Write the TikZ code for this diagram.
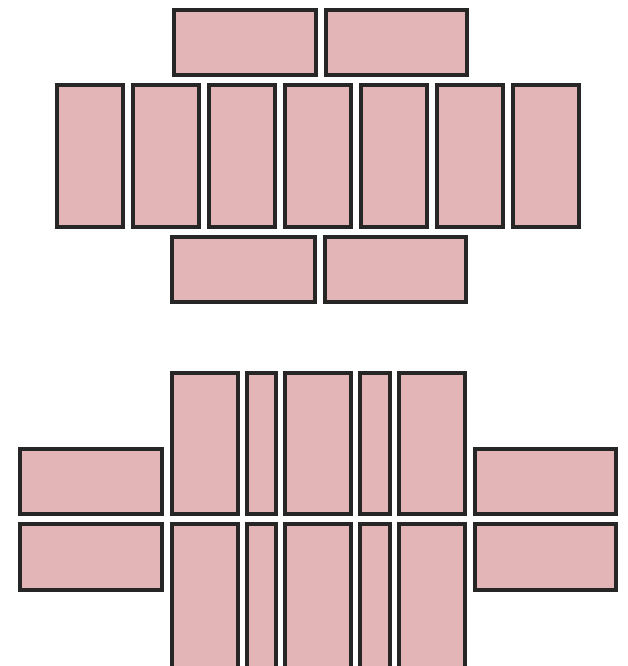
\documentclass[tikz,border=0pt]{standalone}
\definecolor{panel}{HTML}{E3B5B7}
\definecolor{frame}{HTML}{262626}
\begin{document}
\begin{tikzpicture}[x=1pt, y=-1pt, line join=miter,
		panelbox/.style={fill=panel, draw=frame, line width=3.4pt}]
			\useasboundingbox (0,0) rectangle (628,666);
			\clip (0,0) rectangle (628,666);
			% upper layout
			\draw[panelbox] (174,10) rectangle (316,75) (326,10) rectangle (467,75);
			\foreach \x in {57,133,209,285,361,437,513}\draw[panelbox] (\x,85) rectangle ({\x+66},227);
			\draw[panelbox] (172,237) rectangle (315,302) (325,237) rectangle (466,302);
			% lower layout
			\foreach \a/\b in {172/238,247/276,285/351,360/390,399/465}{
				\draw[panelbox] (\a,373) rectangle (\b,514);
				\draw[panelbox] (\a,524) rectangle (\b,675);
			}
			\draw[panelbox] (20,449) rectangle (162,514) (20,524) rectangle (162,590);
			\draw[panelbox] (475,449) rectangle (616,514) (475,524) rectangle (616,590);
		\end{tikzpicture}
\end{document}
